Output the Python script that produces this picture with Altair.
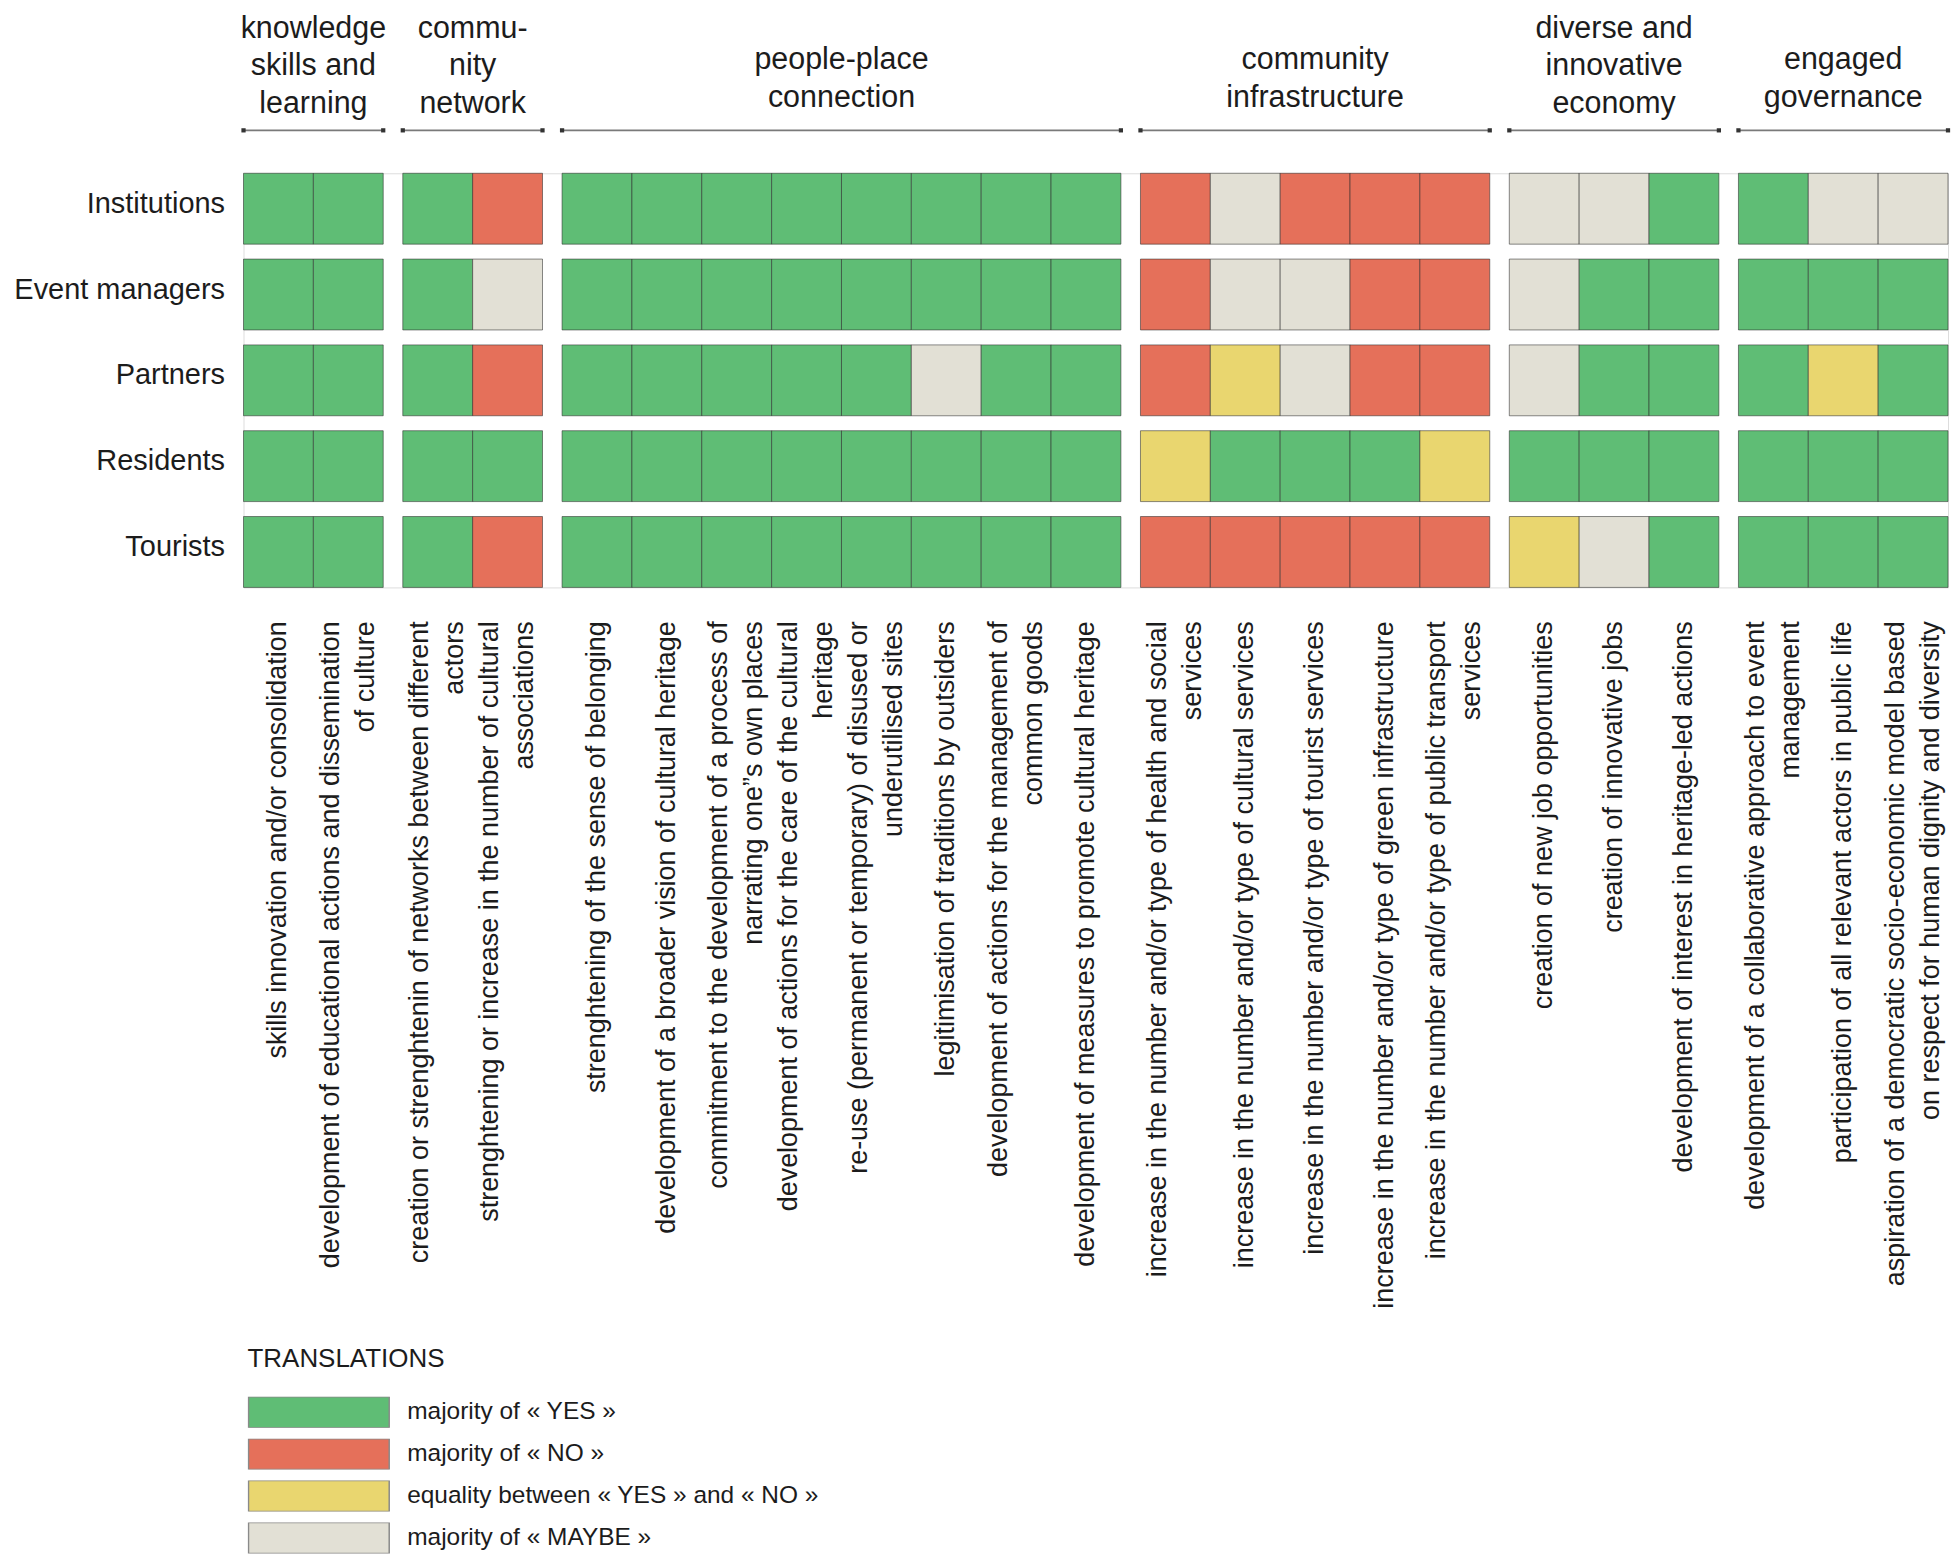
import altair as alt
import pandas as pd

# ---------------- data ----------------
actors = ["Institutions", "Event managers", "Partners", "Residents", "Tourists"]

group_titles = [
    "knowledge|skills and|learning",
    "commu-|nity|network",
    "people-place|connection",
    "community|infrastructure",
    "diverse and|innovative|economy",
    "engaged|governance",
]
group_sizes = [2, 2, 8, 5, 3, 3]

indicators = [
    "skills innovation and/or consolidation",
    "development of educational actions and dissemination|of culture",
    "creation or strenghtenin of networks between different|actors",
    "strenghtening or increase in the number of cultural|associations",
    "strenghtening of the sense of belonging",
    "development of a broader vision of cultural heritage",
    "commitment to the development of a process of|narrating one\u201ds own places",
    "development of actions for the care of the cultural|heritage",
    "re-use (permanent or temporary) of disused or|underutilised sites",
    "legitimisation of traditions by outsiders",
    "development of actions for the management of|common goods",
    "development of measures to promote cultural heritage",
    "increase in the number and/or type of health and social|services",
    "increase in the number and/or type of cultural services",
    "increase in the number and/or type of tourist services",
    "increase in the number and/or type of green infrastructure",
    "increase in the number and/or type of public transport|services",
    "creation of new job opportunities",
    "creation of innovative jobs",
    "development of interest in heritage-led actions",
    "development of a collaborative approach to event|management",
    "participation of all relevant actors in public life",
    "aspiration of a democratic socio-economic model based|on respect for human dignity and diversity",
]

# Y = majority yes, N = majority no, E = equality, M = majority maybe
institutions = ["Y", "Y", "Y", "N", "Y", "Y", "Y", "Y", "Y", "Y", "Y", "Y",
                "N", "M", "N", "N", "N", "M", "M", "Y", "Y", "M", "M"]
event_managers = ["Y", "Y", "Y", "M", "Y", "Y", "Y", "Y", "Y", "Y", "Y", "Y",
                  "N", "M", "M", "N", "N", "M", "Y", "Y", "Y", "Y", "Y"]
partners = ["Y", "Y", "Y", "N", "Y", "Y", "Y", "Y", "Y", "M", "Y", "Y",
            "N", "E", "M", "N", "N", "M", "Y", "Y", "Y", "E", "Y"]
residents = ["Y", "Y", "Y", "Y", "Y", "Y", "Y", "Y", "Y", "Y", "Y", "Y",
             "E", "Y", "Y", "Y", "E", "Y", "Y", "Y", "Y", "Y", "Y"]
tourists = ["Y", "Y", "Y", "N", "Y", "Y", "Y", "Y", "Y", "Y", "Y", "Y",
            "N", "N", "N", "N", "N", "E", "M", "Y", "Y", "Y", "Y"]
answers = [institutions, event_managers, partners, residents, tourists]

codes = ["Y", "N", "E", "M"]
categories = [
    "majority of \u00ab YES \u00bb",
    "majority of \u00ab NO \u00bb",
    "equality between \u00ab YES \u00bb and \u00ab NO \u00bb",
    "majority of \u00ab MAYBE \u00bb",
]
colors = ["#5fbd75", "#e5705a", "#e9d66f", "#e2e0d5"]

# ---------------- layout constants ----------------
FONT = "Liberation Sans"
TEXT = "#1c1c1c"
GAP = 0.28          # gap between groups, in cell units
LH = 0.5            # label line spacing, in cell units
W, H = 1708, 415

# ---------------- tables ----------------
col_x = []
gx0, gx1 = [], []
idx = 0
for gi, n in enumerate(group_sizes):
    gx0.append(idx + gi * GAP)
    for j in range(n):
        col_x.append(idx + gi * GAP)
        idx += 1
    gx1.append(idx + gi * GAP)
total = idx + (len(group_sizes) - 1) * GAP

code_to_cat = dict(zip(codes, categories))
cells = pd.DataFrame(
    [
        {"actor": a, "x0": col_x[c], "x1": col_x[c] + 1, "cat": code_to_cat[row[c]]}
        for a, row in zip(actors, answers)
        for c in range(len(indicators))
    ]
)

lab_rows = []
for c, txt in enumerate(indicators):
    lines = txt.split("|")
    n = len(lines)
    for k, ln in enumerate(lines):
        lab_rows.append({"xc": col_x[c] + 0.5 + (k - (n - 1) / 2) * LH, "line": ln})
labels = pd.DataFrame(lab_rows)

head_rows = []
for gi, t in enumerate(group_titles):
    lines = t.split("|")
    n = len(lines)
    for k, ln in enumerate(lines):
        head_rows.append({"xc": (gx0[gi] + gx1[gi]) / 2, "line": ln, "n": n, "k": k})
heads = pd.DataFrame(head_rows)

groups = pd.DataFrame({"gx0": gx0, "gx1": gx1})

xscale = alt.Scale(domain=[0, total], nice=False, zero=False)

# ---------------- layers ----------------
cell_layer = alt.Chart(cells).mark_rect(
    stroke="#2b2b2b", strokeWidth=1, strokeOpacity=0.55
).encode(
    x=alt.X("x0:Q", scale=xscale, axis=None),
    x2="x1:Q",
    y=alt.Y(
        "actor:N",
        sort=actors,
        scale=alt.Scale(paddingInner=0.174, paddingOuter=0),
        axis=alt.Axis(
            title=None, ticks=False, domain=False, labelFontSize=29,
            labelFont=FONT, labelColor=TEXT, labelPadding=19, labelLimit=400,
            labelOffset=-5,
        ),
    ),
    color=alt.Color(
        "cat:N",
        scale=alt.Scale(domain=categories, range=colors),
        legend=alt.Legend(
            title="TRANSLATIONS", orient="none", legendX=4, legendY=1175,
            direction="vertical", padding=0,
            titleFontSize=26, titleFontWeight="normal", titleColor=TEXT,
            titleFont=FONT, titlePadding=25, titleLimit=600,
            labelFontSize=24.5, labelFont=FONT, labelColor=TEXT, labelLimit=700,
            labelOffset=17,
            symbolType="M-1,-0.22L1,-0.22L1,0.22L-1,0.22Z",
            symbolSize=141 * 141, symbolStrokeColor="#8a8a8a",
            symbolStrokeWidth=1.5, symbolOpacity=1,
            clipHeight=31, rowPadding=11,
        ),
    ),
)

label_layer = alt.Chart(labels).mark_text(
    angle=270, align="right", baseline="middle", fontSize=27, font=FONT, color=TEXT
).encode(
    x=alt.X("xc:Q", scale=xscale, axis=None),
    y=alt.value(H + 34),
    text="line:N",
)

# header line slots: (number of lines, line index, y in px above the grid)
head_slots = [(3, 0, -144.5), (3, 1, -107), (3, 2, -69.5), (2, 0, -113), (2, 1, -75.5)]
head_layers = []
for n, k, yy in head_slots:
    head_layers.append(
        alt.Chart(heads).transform_filter(
            (alt.datum.n == n) & (alt.datum.k == k)
        ).mark_text(
            align="center", baseline="middle", fontSize=30.5, font=FONT, color=TEXT
        ).encode(
            x=alt.X("xc:Q", scale=xscale, axis=None),
            y=alt.value(yy),
            text="line:N",
        )
    )

rule_layer = alt.Chart(groups).mark_rule(color="#7a7a7a", strokeWidth=1.6).encode(
    x=alt.X("gx0:Q", scale=xscale, axis=None),
    x2="gx1:Q",
    y=alt.value(-43),
)
dot0 = alt.Chart(groups).mark_square(size=18, color="#333333", opacity=1).encode(
    x=alt.X("gx0:Q", scale=xscale, axis=None), y=alt.value(-43)
)
dot1 = alt.Chart(groups).mark_square(size=18, color="#333333", opacity=1).encode(
    x=alt.X("gx1:Q", scale=xscale, axis=None), y=alt.value(-43)
)

chart = alt.layer(
    cell_layer, label_layer, *head_layers, rule_layer, dot0, dot1
).properties(
    width=W,
    height=H,
    autosize=alt.AutoSizeParams(type="none"),
    padding={"left": 236, "top": 164, "right": 4, "bottom": 975},
    background="white",
).configure_view(stroke=None).configure(font=FONT)

chart.save("out.html", embed_options={"renderer": "svg", "actions": False})
